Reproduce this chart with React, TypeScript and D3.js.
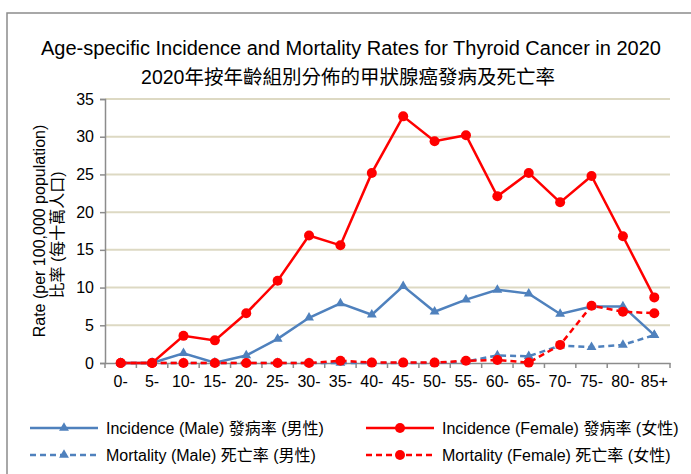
import React, { useRef, useEffect } from 'react';
import * as d3 from 'd3';

const ageGroups = ['0-', '5-', '10-', '15-', '20-', '25-', '30-', '35-', '40-', '45-', '50-', '55-', '60-', '65-', '70-', '75-', '80-', '85+'];
const incidenceMale = [0, 0, 1.3, 0.05, 1.0, 3.2, 6.0, 7.9, 6.4, 10.2, 6.8, 8.4, 9.7, 9.2, 6.5, 7.5, 7.5, 3.7];
const incidenceFemale = [0, 0, 3.6, 3.0, 6.6, 10.9, 16.9, 15.6, 25.2, 32.7, 29.4, 30.2, 22.1, 25.2, 21.3, 24.8, 16.8, 8.7];
const mortalityMale = [0, 0, 0, 0, 0, 0, 0, 0, 0, 0, 0, 0.2, 1.0, 0.9, 2.3, 2.1, 2.4, 3.7];
const mortalityFemale = [0, 0, 0, 0, 0, 0, 0, 0.3, 0.05, 0.05, 0.05, 0.3, 0.4, 0.05, 2.4, 7.6, 6.8, 6.6];
const yTicks = [0, 5, 10, 15, 20, 25, 30, 35];

const seriesList = [
  { name: 'Incidence (Male) 發病率 (男性)', values: incidenceMale, color: '#4f81bd', dash: null, marker: 'triangle' },
  { name: 'Incidence (Female) 發病率 (女性)', values: incidenceFemale, color: '#ff0000', dash: null, marker: 'circle' },
  { name: 'Mortality (Male) 死亡率 (男性)', values: mortalityMale, color: '#4f81bd', dash: '6,4', marker: 'triangle' },
  { name: 'Mortality (Female) 死亡率 (女性)', values: mortalityFemale, color: '#ff0000', dash: '6,4', marker: 'circle' }
];

const FONT = '"Liberation Sans", Arial, "Noto Sans CJK TC", sans-serif';

const App = () => {
  const svgRef = useRef(null);

  useEffect(() => {
    const svg = d3.select(svgRef.current);
    svg.selectAll('*').remove();

    const left = 105;
    const right = 670;
    const top = 99;
    const bottom = 363;

    const xScale = d3.scaleBand().domain(ageGroups).range([left, right]);
    const yScale = d3.scaleLinear().domain([0, 35]).range([bottom, top]);
    const cx = (i) => xScale(ageGroups[i]) + xScale.bandwidth() / 2;

    // outer chart frame
    svg.append('rect')
      .attr('x', 7).attr('y', 13)
      .attr('width', 720).attr('height', 500)
      .attr('fill', '#fff')
      .attr('stroke', '#8c8c8c')
      .attr('stroke-width', 1.5);

    // titles
    svg.append('text')
      .attr('x', 351).attr('y', 55)
      .attr('text-anchor', 'middle')
      .attr('font-size', 20)
      .text('Age-specific Incidence and Mortality Rates for Thyroid Cancer in 2020');
    svg.append('text')
      .attr('x', 348).attr('y', 84)
      .attr('text-anchor', 'middle')
      .attr('font-size', 19.5)
      .text('2020年按年齡組別分佈的甲狀腺癌發病及死亡率');

    // gridlines
    svg.append('g')
      .selectAll('line')
      .data(yTicks.filter(d => d > 0))
      .join('line')
      .attr('x1', left).attr('x2', right)
      .attr('y1', d => yScale(d)).attr('y2', d => yScale(d))
      .attr('stroke', '#ddd9c3')
      .attr('stroke-width', 2);

    // y axis
    const yAxis = d3.axisLeft(yScale).tickValues(yTicks).tickSize(5).tickPadding(6);
    const yG = svg.append('g').attr('transform', `translate(${left},0)`).call(yAxis);
    // x axis
    const xAxis = d3.axisBottom(xScale).tickSize(0).tickPadding(13);
    const xG = svg.append('g').attr('transform', `translate(0,${bottom})`).call(xAxis);
    xG.selectAll('.tick-mark')
      .data(d3.range(ageGroups.length + 1))
      .join('line')
      .attr('x1', i => left + i * xScale.step()).attr('x2', i => left + i * xScale.step())
      .attr('y1', 0).attr('y2', 5)
      .attr('stroke', '#8c8c8c').attr('stroke-width', 1.5);

    [yG, xG].forEach(g => {
      g.select('.domain').attr('stroke', '#8c8c8c').attr('stroke-width', 1.5);
      g.selectAll('.tick line').attr('stroke', '#8c8c8c').attr('stroke-width', 1.5);
      g.selectAll('.tick text').attr('font-family', FONT).attr('font-size', 16).attr('fill', '#000');
    });

    // y axis title
    const yTitle = svg.append('g').attr('transform', 'translate(0,231) rotate(-90)');
    yTitle.append('text')
      .attr('x', 0).attr('y', 45)
      .attr('text-anchor', 'middle')
      .attr('font-size', 16)
      .text('Rate (per 100,000 population)');
    yTitle.append('text')
      .attr('x', -4).attr('y', 63)
      .attr('text-anchor', 'middle')
      .attr('font-size', 16)
      .text('比率 (每十萬人口)');

    const drawMarker = (g, marker, color, x, y) => {
      if (marker === 'circle') {
        g.append('circle').attr('cx', x).attr('cy', y).attr('r', 5).attr('fill', color);
      } else {
        g.append('path')
          .attr('d', d3.symbol(d3.symbolTriangle, 42)())
          .attr('transform', `translate(${x},${y})`)
          .attr('fill', color);
      }
    };

    const lineGen = d3.line()
      .x((d, i) => cx(i))
      .y(d => yScale(d));

    // series
    seriesList.forEach(s => {
      const g = svg.append('g');
      g.append('path')
        .datum(s.values)
        .attr('d', lineGen)
        .attr('fill', 'none')
        .attr('stroke', s.color)
        .attr('stroke-width', 2.5)
        .attr('stroke-dasharray', s.dash);
      s.values.forEach((v, i) => drawMarker(g, s.marker, s.color, cx(i), yScale(v)));
    });

    // legend
    seriesList.forEach((s, i) => {
      const lx = i % 2 === 0 ? 30 : 366;
      const ly = i < 2 ? 428 : 455;
      const g = svg.append('g');
      g.append('line')
        .attr('x1', lx).attr('x2', lx + 68)
        .attr('y1', ly).attr('y2', ly)
        .attr('stroke', s.color)
        .attr('stroke-width', 2.5)
        .attr('stroke-dasharray', s.dash);
      drawMarker(g, s.marker, s.color, lx + 34, ly);
      g.append('text')
        .attr('x', lx + 76).attr('y', ly + 5.5)
        .attr('font-size', 16)
        .text(s.name);
    });
  }, []);

  return (
    <svg
      ref={svgRef}
      width={691}
      height={474}
      fontFamily={FONT}
      style={{ position: 'absolute', left: 0, top: 0, background: '#fff' }}
    />
  );
};

export default App;
